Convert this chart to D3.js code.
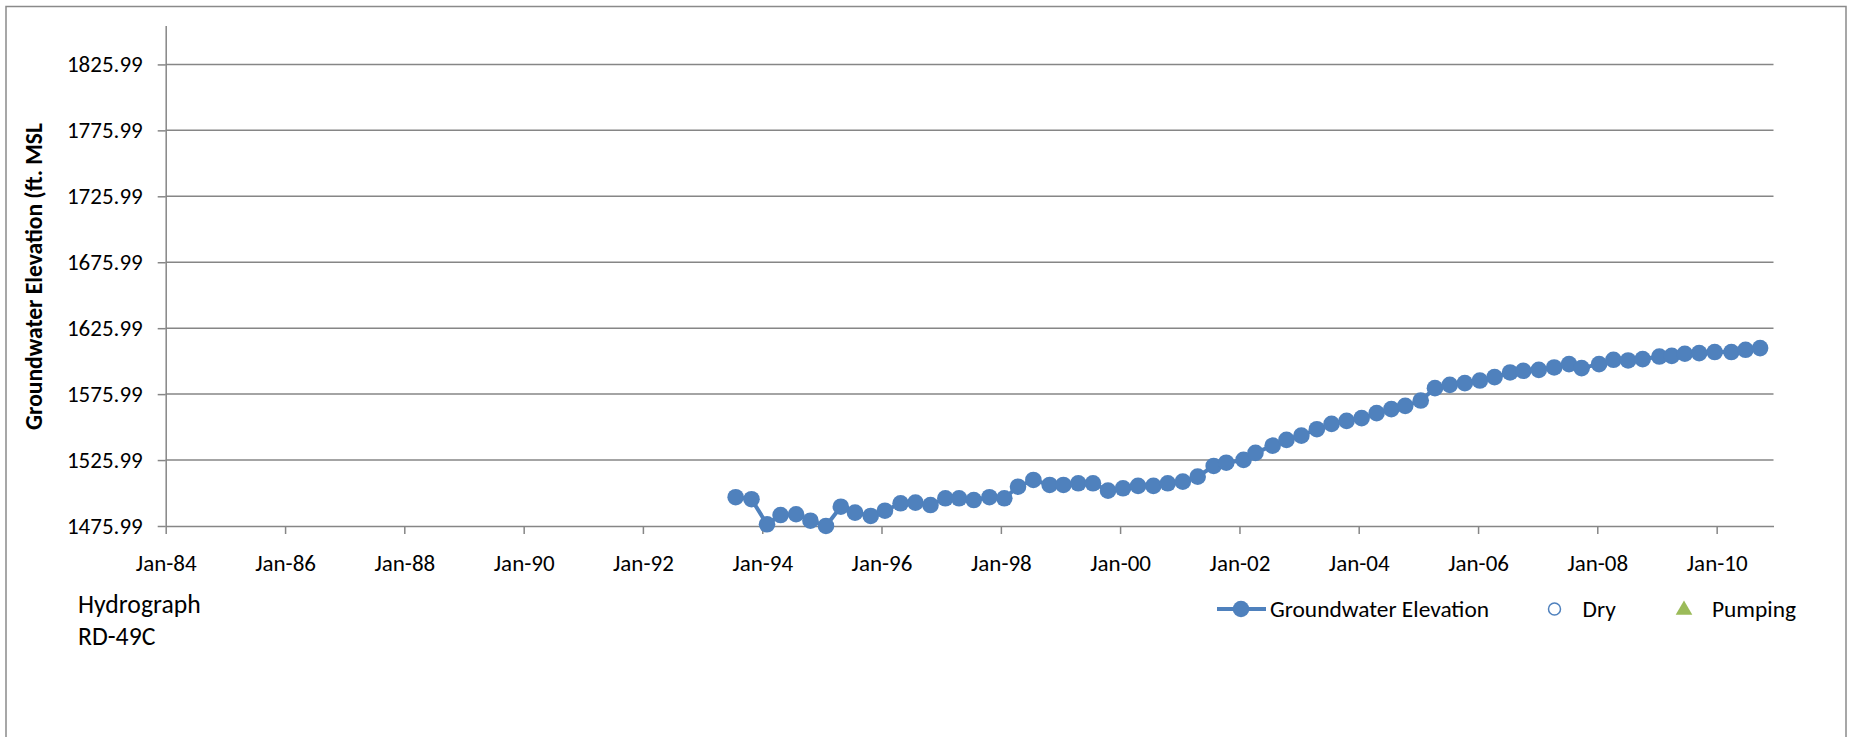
<!DOCTYPE html>
<html>
<head>
<meta charset="utf-8">
<script src="https://cdn.jsdelivr.net/npm/d3@7"></script>
<style>
  html, body { margin: 0; padding: 0; background: #ffffff; }
  svg { display: block; }
  text { font-family: Carlito, Lato, "Open Sans", sans-serif; fill: #000; }
</style>
</head>
<body>
<svg id="chart" width="1849" height="737"></svg>
<script>
// ---- data ----
const obsDates = [
  "1993-07-22","1993-10-27","1994-01-30","1994-04-23","1994-07-27","1994-10-23",
  "1995-01-26","1995-04-27","1995-07-23","1995-10-27","1996-01-22","1996-04-27",
  "1996-07-27","1996-10-27","1997-01-26","1997-04-20","1997-07-19","1997-10-23",
  "1998-01-22","1998-04-16","1998-07-19","1998-10-27","1999-01-19","1999-04-20",
  "1999-07-19","1999-10-19","2000-01-19","2000-04-20","2000-07-23","2000-10-19",
  "2001-01-19","2001-04-20","2001-07-27","2001-10-12","2002-01-26","2002-04-09",
  "2002-07-23","2002-10-16","2003-01-15","2003-04-20","2003-07-19","2003-10-19",
  "2004-01-19","2004-04-20","2004-07-19","2004-10-12","2005-01-15","2005-04-12",
  "2005-07-12","2005-10-12","2006-01-12","2006-04-12","2006-07-16","2006-10-05",
  "2007-01-08","2007-04-12","2007-07-12","2007-09-27","2008-01-12","2008-04-09",
  "2008-07-08","2008-10-05","2009-01-15","2009-04-01","2009-06-20","2009-09-16",
  "2009-12-20","2010-04-01","2010-06-27","2010-09-24"
];
const elevation = [
  1497.8,1496.3,1477.3,1484.3,1484.9,1480.0,
  1476.0,1490.6,1486.1,1483.6,1487.6,1493.2,
  1493.7,1491.9,1497.0,1497.0,1495.7,1497.8,
  1497.0,1505.8,1510.9,1507.1,1507.1,1508.4,
  1508.4,1502.8,1504.6,1506.4,1506.4,1508.4,
  1509.6,1513.4,1521.5,1524.0,1526.1,1531.4,
  1536.9,1541.3,1544.5,1549.4,1553.4,1555.7,
  1557.8,1561.6,1564.6,1567.1,1571.1,1580.5,
  1583.0,1584.3,1586.3,1588.9,1592.4,1593.7,
  1594.4,1596.2,1598.7,1595.7,1598.7,1602.0,
  1601.5,1602.5,1604.5,1605.0,1606.6,1607.1,
  1607.9,1607.9,1609.6,1610.9
];
const yTickValues = [1475.99,1525.99,1575.99,1625.99,1675.99,1725.99,1775.99,1825.99];
const yDomain = [1475.99, 1855.5];
const xTickYears = [1984,1986,1988,1990,1992,1994,1996,1998,2000,2002,2004,2006,2008,2010];
const xDomain = ["1984-01-01","2010-12-15"];
const legendLabels = ["Groundwater Elevation","Dry","Pumping"];
const titleLines = ["Hydrograph","RD-49C"];
const yAxisTitle = "Groundwater Elevation (ft. MSL";

// ---- layout ----
const parse = d3.timeParse("%Y-%m-%d");
const data = obsDates.map((d,i) => ({date: parse(d), value: elevation[i]}));
const plot = {left: 165.7, right: 1773.5, bottom: 526, top: 25.5};
const blue = "#4F81BD", grid = "#868686", green = "#9BBB59";
const FONT = "Carlito, Lato, sans-serif";

const svg = d3.select("#chart");

// outer border
svg.append("rect").attr("x",6).attr("y",6.5).attr("width",1840).attr("height",760)
  .attr("fill","none").attr("stroke","#8a8a8a").attr("stroke-width",1.5);

const x = d3.scaleTime().domain(xDomain.map(parse)).range([plot.left, plot.right]);
const y = d3.scaleLinear().domain(yDomain).range([plot.bottom, plot.top]);

// gridlines
svg.append("g").selectAll("line").data(yTickValues.slice(1)).join("line")
  .attr("x1", plot.left).attr("x2", plot.right)
  .attr("y1", d => y(d)).attr("y2", d => y(d))
  .attr("stroke", grid).attr("stroke-width", 1.5);

// y axis
const yAxis = d3.axisLeft(y).tickValues(yTickValues).tickFormat(d3.format(".2f"))
  .tickSizeInner(8).tickSizeOuter(0).tickPadding(15);
const gy = svg.append("g").attr("transform", `translate(${plot.left},0)`).call(yAxis);
gy.select(".domain").attr("stroke", grid).attr("stroke-width", 1.5);
gy.selectAll(".tick line").attr("stroke", grid).attr("stroke-width", 1.5);
gy.selectAll(".tick text").attr("font-size", 23).attr("font-family", FONT)
  .attr("fill", "#000");

// x axis
const xAxis = d3.axisBottom(x).tickValues(xTickYears.map(yr => new Date(yr,0,1)))
  .tickFormat(d3.timeFormat("%b-%y")).tickSizeInner(8).tickSizeOuter(0).tickPadding(21);
const gx = svg.append("g").attr("transform", `translate(0,${plot.bottom})`).call(xAxis);
gx.select(".domain").attr("stroke", grid).attr("stroke-width", 1.5);
gx.selectAll(".tick line").attr("stroke", grid).attr("stroke-width", 1.5);
gx.selectAll(".tick text").attr("font-size", 23).attr("font-family", FONT)
  .attr("fill", "#000");

// y axis title (font size fitted so the title spans ~307px like the reference)
const yt = svg.append("text").attr("transform", "translate(42,276.5) rotate(-90)")
  .attr("text-anchor","middle").attr("font-weight","bold").attr("font-size",21)
  .text(yAxisTitle);
const ytLen = yt.node().getComputedTextLength();
if (ytLen > 0) yt.attr("font-size", Math.min(24, 21 * 307 / ytLen));

// series line + markers
const line = d3.line().x(d => x(d.date)).y(d => y(d.value));
svg.append("path").datum(data).attr("d", line).attr("fill","none")
  .attr("stroke", blue).attr("stroke-width", 4).attr("stroke-linejoin","round");
svg.append("g").selectAll("circle").data(data).join("circle")
  .attr("cx", d => x(d.date)).attr("cy", d => y(d.value)).attr("r", 8.3)
  .attr("fill", blue);

// title text
svg.append("g").selectAll("text").data(titleLines).join("text")
  .attr("x", 78).attr("y", (d,i) => 613 + i*32).attr("font-size", 25.7).text(d => d);

// legend
const lg = svg.append("g");
const ly = 609;
lg.append("line").attr("x1",1217).attr("x2",1266).attr("y1",ly).attr("y2",ly)
  .attr("stroke",blue).attr("stroke-width",4);
lg.append("circle").attr("cx",1241).attr("cy",ly).attr("r",8.3).attr("fill",blue);
lg.append("text").attr("x",1270).attr("y",ly+8).attr("font-size",23.4).text(legendLabels[0]);
lg.append("circle").attr("cx",1554.5).attr("cy",ly).attr("r",6).attr("fill","#fff")
  .attr("stroke",blue).attr("stroke-width",1.5);
lg.append("text").attr("x",1582.5).attr("y",ly+8).attr("font-size",23.4).text(legendLabels[1]);
lg.append("path").attr("d", d3.symbol(d3.symbolTriangle, 120)())
  .attr("transform", `translate(1684,${ly+1})`).attr("fill", green);
lg.append("text").attr("x",1712).attr("y",ly+8).attr("font-size",23.4).text(legendLabels[2]);
</script>
</body>
</html>
